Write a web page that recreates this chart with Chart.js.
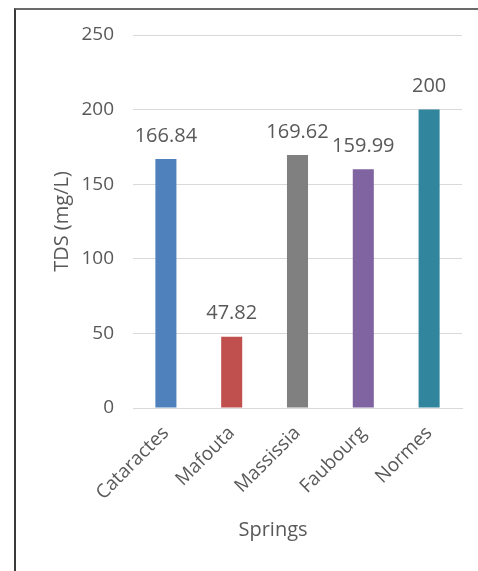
<!DOCTYPE html>
<html>
<head>
<meta charset="utf-8">
<script src="https://cdn.jsdelivr.net/npm/chart.js@4.4.1/dist/chart.umd.min.js"></script>
<style>
  html, body { margin: 0; padding: 0; background: #fff; }
  #wrap { position: relative; width: 478px; height: 571px; overflow: hidden; }
  #frame { position: absolute; left: 14px; top: 8px; right: -4px; bottom: -4px; border-left: 2px solid #3a3a3a; border-top: 2px solid #6a6a6a; }
  canvas { position: absolute; left: 0; top: 0; }
</style>
</head>
<body>
<div id="wrap">
  <canvas id="tdsChart" width="478" height="571"></canvas>
  <div id="frame"></div>
</div>
<script>
// TDS per spring
var springs   = ['Cataractes', 'Mafouta', 'Massissia', 'Faubourg', 'Normes'];
var tdsValues = [166.84, 47.82, 169.62, 159.99, 200];
var tdsLabels = ['166.84', '47.82', '169.62', '159.99', '200'];
var barColors = ['#4f81bd', '#c0504d', '#808080', '#8064a2', '#31859c'];
var yTicks    = [0, 50, 100, 150, 200, 250];

var FONT = "'Open Sans', sans-serif";
var TEXT = '#595959';

// value labels above each bar, plus the x axis title centred on the frame
var valueLabels = {
  id: 'valueLabels',
  afterDatasetsDraw: function(chart) {
    var ctx = chart.ctx;
    var meta = chart.getDatasetMeta(0);
    ctx.save();
    ctx.font = '20px ' + FONT;
    ctx.fillStyle = TEXT;
    ctx.textAlign = 'center';
    ctx.textBaseline = 'middle';
    meta.data.forEach(function(bar, i) {
      ctx.fillText(tdsLabels[i], bar.x, bar.y - 23);
    });
    ctx.fillText('Springs', 273, 530);
    ctx.restore();
  }
};

new Chart(document.getElementById('tdsChart'), {
  type: 'bar',
  data: {
    labels: springs,
    datasets: [{
      data: tdsValues,
      backgroundColor: barColors,
      borderWidth: 0,
      barPercentage: 0.32,
      categoryPercentage: 1
    }]
  },
  options: {
    responsive: false,
    animation: false,
    layout: { padding: { left: 50, top: 35, right: 16, bottom: 30 } },
    plugins: { legend: { display: false }, tooltip: { enabled: false } },
    scales: {
      x: {
        grid: { display: false, drawTicks: false },
        border: { color: '#d9d9d9', width: 1 },
        ticks: { color: TEXT, font: { family: FONT, size: 19 }, minRotation: 45, maxRotation: 45, padding: 14 },
        afterFit: function(s) { s.height = 571 - 408 - 30; }
      },
      y: {
        min: 0, max: 250,
        afterBuildTicks: function(s) { s.ticks = yTicks.map(function(v) { return { value: v }; }); },
        grid: { color: '#d9d9d9', drawTicks: false },
        border: { display: false },
        ticks: { color: TEXT, font: { family: FONT, size: 19 }, padding: 19 },
        title: { display: true, text: 'TDS (mg/L)', color: TEXT, font: { family: FONT, size: 20 }, padding: 0 },
        afterFit: function(s) { s.width = 133 - 50; }
      }
    }
  },
  plugins: [valueLabels]
});
</script>
</body>
</html>
